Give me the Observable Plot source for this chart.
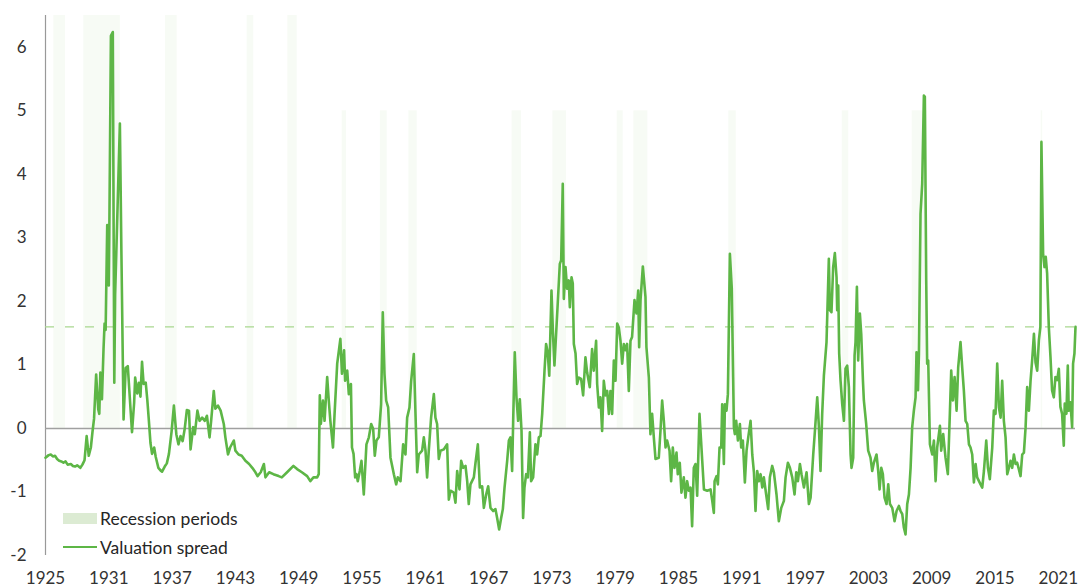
<!DOCTYPE html>
<html><head><meta charset="utf-8">
<script src="https://cdn.jsdelivr.net/npm/d3@7"></script>
<script src="https://cdn.jsdelivr.net/npm/@observablehq/plot@0.6"></script>
<style>
body{margin:0;background:#fff;font-family:Lato,"Open Sans",sans-serif}
#wrap{position:relative;width:1079px;height:588px;overflow:hidden}
.lg{position:absolute;left:63px;display:flex;align-items:center;font-size:17.5px;color:#262626;white-space:nowrap;height:22px}
.lg .sw{width:34px;margin-right:3px}
</style></head><body><div id="wrap"></div>
<script>
// Chart time axis (decimal years as positioned on the chart) and valuation spread values
const years = [
1925.0,1925.3,1925.5,1925.7,1925.9,1926.1,1926.3,1926.5,1926.7,1926.9,1927.1,1927.4,1927.6,1927.8,1928.0,1928.3,1928.5,1928.7,1928.9,1929.1,
1929.3,1929.45,1929.6,1929.8,1930.0,1930.1,1930.2,1930.35,1930.5,1930.6,1930.7,1930.85,1931.0,1931.05,1931.2,1931.38,1931.52,1931.6,1932.05,1932.2,
1932.4,1932.6,1932.8,1933.0,1933.2,1933.4,1933.5,1933.7,1933.85,1934.0,1934.15,1934.3,1934.5,1934.65,1934.8,1934.95,1935.1,1935.3,1935.45,1935.7,
1935.9,1936.05,1936.3,1936.5,1936.7,1936.95,1937.17,1937.4,1937.6,1937.8,1938.0,1938.2,1938.4,1938.6,1938.75,1939.0,1939.15,1939.4,1939.6,1939.85,
1940.1,1940.3,1940.55,1940.7,1940.95,1941.1,1941.35,1941.6,1941.9,1942.05,1942.3,1942.5,1942.85,1943.0,1943.3,1943.6,1943.95,1944.3,1944.6,1944.9,
1945.1,1945.4,1945.7,1945.85,1946.2,1946.6,1947.1,1947.4,1947.9,1948.5,1948.85,1949.3,1949.8,1950.1,1950.4,1950.75,1950.9,1951.0,1951.1,1951.3,
1951.45,1951.7,1951.85,1952.0,1952.25,1952.4,1952.65,1952.95,1953.1,1953.3,1953.4,1953.6,1953.75,1953.95,1954.05,1954.2,1954.35,1954.48,1954.6,1954.79,
1954.95,1955.17,1955.42,1955.65,1955.87,1956.06,1956.21,1956.37,1956.59,1956.81,1956.97,1957.13,1957.29,1957.48,1957.7,1958.02,1958.24,1958.39,1958.65,1958.9,
1959.12,1959.28,1959.5,1959.66,1959.91,1960.07,1960.23,1960.38,1960.7,1960.86,1961.02,1961.17,1961.33,1961.55,1961.81,1961.96,1962.12,1962.28,1962.44,1962.75,
1963.07,1963.23,1963.39,1963.7,1963.86,1964.02,1964.24,1964.4,1964.59,1964.81,1964.97,1965.12,1965.28,1965.6,1965.76,1965.98,1966.17,1966.39,1966.55,1966.77,
1966.96,1967.18,1967.43,1967.65,1967.81,1968.0,1968.19,1968.35,1968.51,1968.76,1968.92,1969.07,1969.23,1969.33,1969.48,1969.64,1969.8,1969.96,1970.12,1970.27,
1970.4,1970.56,1970.72,1970.91,1971.03,1971.22,1971.44,1971.6,1971.76,1971.92,1972.08,1972.3,1972.45,1972.6,1972.75,1972.96,1973.1,1973.24,1973.56,1973.75,
1973.88,1974.03,1974.13,1974.29,1974.44,1974.6,1974.7,1974.86,1974.98,1975.08,1975.24,1975.39,1975.55,1975.77,1975.96,1976.18,1976.34,1976.59,1976.81,1976.97,
1977.19,1977.29,1977.45,1977.6,1977.76,1977.92,1978.08,1978.24,1978.4,1978.55,1978.71,1978.87,1979.03,1979.19,1979.34,1979.5,1979.66,1979.82,1979.97,1980.13,
1980.29,1980.45,1980.6,1980.83,1981.02,1981.18,1981.27,1981.4,1981.62,1981.87,1981.96,1982.19,1982.34,1982.5,1982.66,1982.82,1983.13,1983.29,1983.45,1983.61,
1983.77,1983.92,1984.15,1984.3,1984.46,1984.62,1984.81,1984.93,1985.12,1985.28,1985.5,1985.66,1985.82,1985.98,1986.14,1986.29,1986.45,1986.61,1986.77,1986.99,
1987.25,1987.41,1987.72,1988.04,1988.2,1988.35,1988.42,1988.61,1988.73,1988.89,1989.05,1989.14,1989.3,1989.4,1989.55,1989.68,1989.87,1990.05,1990.18,1990.25,
1990.34,1990.47,1990.63,1990.82,1990.94,1991.1,1991.29,1991.45,1991.61,1991.83,1991.99,1992.15,1992.3,1992.46,1992.62,1992.78,1992.94,1993.09,1993.31,1993.5,
1993.66,1993.88,1994.04,1994.29,1994.51,1994.74,1994.99,1995.15,1995.37,1995.56,1995.78,1996.0,1996.16,1996.32,1996.51,1996.66,1996.89,1997.14,1997.36,1997.52,
1997.77,1997.93,1998.15,1998.31,1998.46,1998.62,1998.78,1999.03,1999.25,1999.35,1999.5,1999.66,1999.82,1999.98,2000.04,2000.14,2000.23,2000.36,2000.52,2000.68,
2000.83,2000.99,2001.15,2001.31,2001.4,2001.56,2001.69,2001.78,2001.91,2002.03,2002.19,2002.32,2002.48,2002.57,2002.79,2002.98,2003.2,2003.36,2003.52,2003.77,
2003.93,2004.06,2004.22,2004.37,2004.53,2004.72,2004.88,2005.04,2005.26,2005.48,2005.67,2005.89,2006.05,2006.21,2006.36,2006.52,2006.68,2006.84,2007.0,2007.15,
2007.31,2007.47,2007.56,2007.7,2007.79,2007.94,2008.1,2008.26,2008.35,2008.48,2008.57,2008.67,2008.83,2009.05,2009.21,2009.37,2009.52,2009.78,2009.9,2010.09,
2010.31,2010.53,2010.72,2010.85,2011.01,2011.17,2011.36,2011.51,2011.73,2011.89,2012.05,2012.21,2012.37,2012.53,2012.68,2012.84,2013.0,2013.16,2013.31,2013.63,
2013.79,2013.95,2014.17,2014.33,2014.51,2014.74,2014.89,2015.05,2015.21,2015.37,2015.53,2015.68,2015.84,2016.0,2016.16,2016.32,2016.47,2016.63,2016.79,2016.95,
2017.1,2017.26,2017.42,2017.58,2017.74,2017.9,2018.05,2018.21,2018.37,2018.53,2018.69,2018.84,2019.0,2019.16,2019.3,2019.4,2019.56,2019.69,2019.81,2019.94,
2020.1,2020.26,2020.41,2020.57,2020.73,2020.89,2021.05,2021.2,2021.36,2021.52,2021.61,2021.77,2021.9,2021.99,2022.15,2022.31,2022.4,2022.53,2022.63
];
const spread = [
-0.46,-0.42,-0.41,-0.44,-0.43,-0.48,-0.51,-0.52,-0.54,-0.52,-0.57,-0.56,-0.59,-0.60,-0.58,-0.62,-0.57,-0.50,-0.12,-0.43,
-0.30,-0.06,0.15,0.85,0.30,0.23,0.88,0.46,1.25,1.65,1.55,3.20,2.25,3.10,6.18,6.24,0.72,2.10,4.80,2.70,
0.14,0.95,0.98,0.46,-0.06,0.40,0.80,0.55,0.72,0.50,1.05,0.70,0.72,0.45,0.12,-0.23,-0.40,-0.30,-0.45,-0.62,
-0.66,-0.68,-0.60,-0.55,-0.40,-0.05,0.36,-0.09,-0.25,-0.12,-0.20,0.00,0.29,0.28,-0.33,0.02,-0.09,0.28,0.12,0.17,
0.12,0.20,-0.14,0.12,0.59,0.31,0.36,0.28,0.07,-0.14,-0.41,-0.30,-0.19,-0.35,-0.41,-0.43,-0.51,-0.56,-0.62,-0.69,
-0.75,-0.69,-0.56,-0.77,-0.69,-0.72,-0.75,-0.77,-0.69,-0.59,-0.64,-0.69,-0.75,-0.83,-0.77,-0.77,-0.72,0.52,0.07,0.44,
0.12,0.81,0.44,0.12,-0.30,0.23,1.02,1.41,0.86,1.23,0.75,0.91,0.54,0.70,-0.30,-0.40,-0.77,-0.72,-0.83,-0.67,
-0.51,-1.04,-0.25,-0.14,0.07,-0.01,-0.43,-0.19,-0.14,0.38,1.83,0.86,0.44,0.33,-0.46,-0.72,-0.88,-0.77,-0.83,-0.25,
-0.41,0.17,0.33,0.75,1.17,0.23,-0.69,-0.41,-0.35,-0.14,-0.35,-0.77,-0.35,0.17,0.54,0.17,0.07,-0.48,-0.35,-0.33,
-0.25,-1.12,-0.98,-1.01,-1.17,-0.67,-0.96,-0.51,-0.62,-0.59,-0.83,-1.19,-0.88,-0.77,-0.54,-0.25,-0.93,-0.91,-1.25,-1.04,
-0.91,-1.25,-1.30,-1.27,-1.41,-1.59,-1.41,-1.27,-0.93,-0.51,-0.19,-0.14,-0.67,0.12,1.20,0.49,0.12,0.46,-0.04,-1.41,
-0.93,-0.72,-0.77,-0.06,-0.83,-0.77,-0.25,-0.41,-0.14,-0.12,0.23,0.91,1.33,1.20,0.83,2.17,1.50,0.99,1.99,2.59,
2.65,3.85,2.04,2.54,2.20,2.33,1.91,2.38,2.28,1.33,1.18,0.70,0.80,0.78,0.52,1.12,0.88,0.65,1.25,0.91,
1.38,0.70,0.33,0.49,-0.04,0.75,0.52,0.59,0.23,0.59,0.23,1.07,0.75,1.65,1.59,1.38,1.02,1.33,1.23,1.33,
0.59,1.38,1.44,2.02,1.81,2.17,1.28,2.02,2.55,2.07,1.28,0.80,-0.09,0.23,-0.14,-0.48,-0.46,-0.04,0.44,0.12,
-0.30,-0.19,-0.35,-0.83,-0.30,-0.62,-0.38,-0.72,-0.54,-1.01,-0.77,-1.09,-0.83,-0.98,-0.93,-1.54,-0.62,-0.56,-1.06,0.23,
-0.51,-0.96,-0.98,-0.96,-1.14,-1.33,-0.83,-0.75,-0.88,-0.30,-0.30,0.38,-0.56,0.38,0.28,0.54,2.75,2.20,0.80,0.02,
-0.09,0.12,-0.19,0.07,-0.30,-0.19,-0.85,-0.35,-0.14,0.12,-0.41,-0.69,-1.30,-0.67,-0.83,-0.72,-0.93,-0.77,-1.04,-1.27,
-0.77,-0.59,-0.69,-1.04,-1.46,-1.25,-1.14,-0.77,-0.54,-0.62,-0.77,-1.04,-0.69,-0.83,-0.56,-0.72,-0.93,-0.69,-1.19,-1.09,
-0.41,-0.04,0.49,0.02,-0.67,0.23,0.83,1.36,2.67,1.86,1.83,2.54,2.76,2.38,1.86,2.25,1.18,0.75,0.38,0.12,
0.94,0.99,0.65,-0.41,-0.62,-0.46,1.15,1.36,2.23,1.07,1.81,1.49,0.76,0.44,0.07,-0.35,-0.46,-0.67,-0.54,-0.41,
-0.67,-0.96,-0.62,-0.72,-1.09,-1.19,-0.88,-1.19,-1.25,-1.46,-1.30,-1.22,-1.30,-1.35,-1.56,-1.67,-1.19,-1.04,-0.62,0.02,
0.28,0.49,1.20,0.60,1.18,3.38,3.85,5.24,5.22,2.33,1.02,1.07,-0.25,-0.41,-0.19,-0.83,-0.30,0.04,-0.35,-0.09,
-0.46,-0.72,0.23,0.91,0.44,0.81,0.28,0.96,1.36,0.96,0.59,0.12,0.07,-0.25,-0.30,-0.41,-0.85,-0.56,-0.77,-0.88,
-0.93,-0.67,-0.19,-0.62,-0.80,-0.30,0.28,0.23,1.02,0.33,0.17,0.75,0.12,-0.14,-0.72,-0.62,-0.51,-0.62,-0.41,-0.56,
-0.54,-0.64,-0.75,-0.41,-0.38,0.02,0.65,0.28,0.75,1.09,1.49,1.04,0.91,1.39,1.60,4.51,2.75,2.54,2.70,2.44,
1.60,1.12,0.60,0.49,0.81,0.76,0.94,0.34,0.23,-0.27,0.39,0.23,0.99,0.28,0.41,0.02,1.02,1.18,1.60
];
// Recession periods (chart years) and the height of each shaded band
const recessionStart = [1925.79,1928.63,1936.37,1944.12,1947.97,1953.12,1956.75,1959.44,1969.23,1973.09,1979.19,1980.77,1989.77,2000.52,2007.15,2019.38];
const recessionEnd   = [1926.90,1932.10,1937.48,1944.74,1948.86,1953.53,1957.39,1960.23,1970.12,1974.38,1979.76,1982.09,1990.47,2001.14,2008.57,2019.52];
const recessionTop   = [6.5,6.5,6.5,6.5,6.5,5,5,5,5,5,5,5,5,5,5,5];
const averageSpread = 1.6;
const yTicks = [-2,-1,0,1,2,3,4,5,6];
const xTicks = [1925,1931,1937,1943,1949,1955,1961,1967,1973,1979,1985,1991,1997,2003,2009,2015,2021];
const legendLabels = ["Recession periods","Valuation spread"];

const series = years.map((t,i)=>({t, v: spread[i]}));
const recessions = recessionStart.map((s,i)=>({start:s, end:recessionEnd[i], top:recessionTop[i]}));

const chart = Plot.plot({
  width:1079, height:588,
  marginLeft:45, marginRight:4, marginTop:15, marginBottom:33,
  style:{fontFamily:"Lato, 'Open Sans', sans-serif", fontSize:"17px", color:"#333", background:"#fff"},
  x:{domain:[years[0], years[years.length-1]], ticks:xTicks, tickFormat:d=>String(d), tickSize:0, tickPadding:16, label:null},
  y:{domain:[yTicks[0], 6.5], ticks:yTicks, tickSize:0, tickPadding:19, label:null, tickFormat:d=>String(d)},
  marks:[
    Plot.rectY(recessions, {x1:"start", x2:"end", y1:0, y2:"top", fill:"#dcebd3", fillOpacity:0.22}),
    Plot.ruleX([years[0]], {stroke:"#999", strokeWidth:1.2}),
    Plot.ruleY([0], {stroke:"#a0a0a0", strokeWidth:1.5}),
    Plot.ruleY([averageSpread], {stroke:"#a9d890", strokeWidth:1.2, strokeDasharray:"9,11"}),
    Plot.line(series, {x:"t", y:"v", stroke:"#5db646", strokeWidth:2.6, strokeLinejoin:"round"})
  ]
});
const wrap = document.getElementById("wrap");
wrap.appendChild(chart);

const lg1 = document.createElement("div");
lg1.className="lg"; lg1.style.top="507px";
lg1.innerHTML = `<div class="sw" style="height:11px;background:#dcebd3"></div><span>${legendLabels[0]}</span>`;
const lg2 = document.createElement("div");
lg2.className="lg"; lg2.style.top="536px";
lg2.innerHTML = `<div class="sw" style="height:2.5px;background:#5db646"></div><span>${legendLabels[1]}</span>`;
wrap.appendChild(lg1); wrap.appendChild(lg2);
</script>
</body></html>
